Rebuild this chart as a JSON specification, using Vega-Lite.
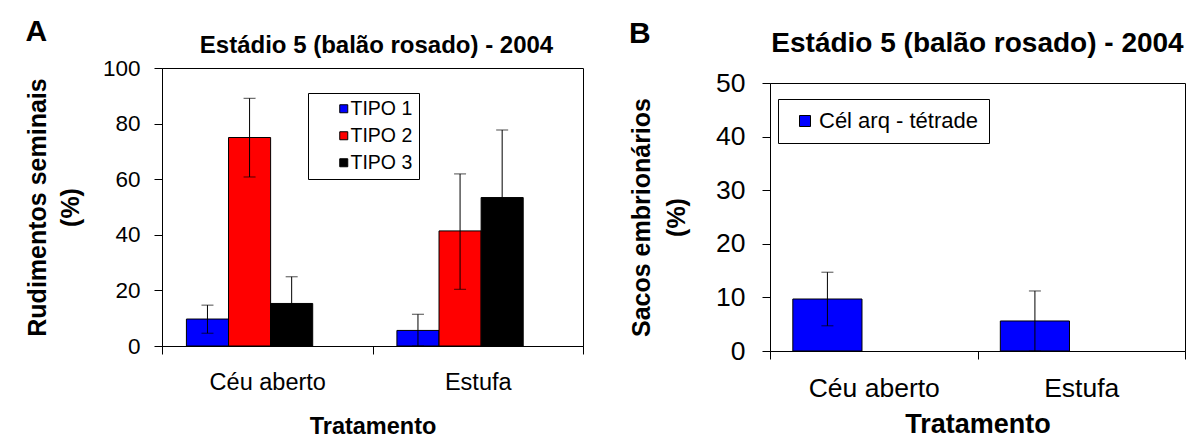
{
  "$schema": "https://vega.github.io/schema/vega-lite/v6.json",
  "background": "white",
  "padding": {"left": 25, "top": 16, "right": 0, "bottom": 0},
  "config": {
    "font": "Liberation Sans",
    "view": {"stroke": "black", "strokeWidth": 1},
    "axis": {
      "domainColor": "black", "domainWidth": 1,
      "tickColor": "black", "tickWidth": 1, "tickSize": 8,
      "labelColor": "black", "titleColor": "black",
      "labelFont": "Liberation Sans", "titleFont": "Liberation Sans",
      "titleFontWeight": "bold", "grid": false
    },
    "title": {"font": "Liberation Sans", "fontWeight": "bold", "color": "black"}
  },
  "datasets": {
    "rudimentos": [
      {"tratamento": "Céu aberto", "tipo": "TIPO 1", "media": 9.7, "inf": 4.6, "sup": 14.7},
      {"tratamento": "Céu aberto", "tipo": "TIPO 2", "media": 75.0, "inf": 60.8, "sup": 89.1},
      {"tratamento": "Céu aberto", "tipo": "TIPO 3", "media": 15.3, "inf": 5.7, "sup": 24.9},
      {"tratamento": "Estufa", "tipo": "TIPO 1", "media": 5.6, "inf": 0, "sup": 11.4},
      {"tratamento": "Estufa", "tipo": "TIPO 2", "media": 41.4, "inf": 20.4, "sup": 61.9},
      {"tratamento": "Estufa", "tipo": "TIPO 3", "media": 53.4, "inf": 29.1, "sup": 77.7}
    ],
    "sacos": [
      {"tratamento": "Céu aberto", "serie": "Cél arq - tétrade", "media": 9.7, "inf": 4.7, "sup": 14.7},
      {"tratamento": "Estufa", "serie": "Cél arq - tétrade", "media": 5.6, "inf": 0, "sup": 11.2}
    ],
    "titulo": [
      {"titulo": "Estádio 5 (balão rosado) - 2004"}
    ]
  },
  "resolve": {
    "scale": {"x": "independent", "y": "independent", "xOffset": "independent", "color": "independent"},
    "legend": {"color": "independent"}
  },
  "spacing": 45,
  "hconcat": [
    {
      "title": {"text": "A", "anchor": "start", "frame": "bounds", "fontSize": 30, "offset": -12.5},
      "bounds": "flush",
      "spacing": 10,
      "vconcat": [
        {
          "width": 421,
          "height": 24,
          "view": {"stroke": null},
          "data": {"name": "titulo"},
          "mark": {"type": "text", "fontSize": 24, "fontWeight": "bold", "color": "black", "align": "center", "baseline": "middle", "dx": 4},
          "encoding": {"text": {"field": "titulo", "type": "nominal"}}
        },
        {
          "width": 421,
          "height": 278,
          "data": {"name": "rudimentos"},
          "encoding": {
            "x": {
              "field": "tratamento", "type": "nominal",
              "scale": {"domain": ["Céu aberto", "Estufa"], "paddingInner": 0, "paddingOuter": 0},
              "axis": {"title": "Tratamento", "labelAngle": 0, "tickBand": "extent", "labelFontSize": 23.5, "labelPadding": 16, "titleFontSize": 23.5, "titlePadding": 21}
            },
            "xOffset": {
              "field": "tipo", "type": "nominal",
              "scale": {"domain": ["TIPO 1", "TIPO 2", "TIPO 3"], "paddingInner": 0, "paddingOuter": 1.192, "align": 0.29}
            }
          },
          "layer": [
            {
              "mark": {"type": "bar", "stroke": "black", "strokeWidth": 1},
              "encoding": {
                "y": {
                  "field": "media", "type": "quantitative",
                  "scale": {"domain": [0, 100], "nice": false},
                  "axis": {"title": ["Rudimentos seminais", "(%)"], "values": [0, 20, 40, 60, 80, 100], "labelFontSize": 22.5, "labelPadding": 14, "titleFontSize": 25, "titleLineHeight": 33, "titlePadding": 18.5}
                },
                "color": {
                  "field": "tipo", "type": "nominal",
                  "scale": {"domain": ["TIPO 1", "TIPO 2", "TIPO 3"], "range": ["#0000ff", "#ff0000", "#000000"]},
                  "legend": {
                    "orient": "none", "legendX": 146, "legendY": 59, "title": null,
                    "strokeColor": "black", "fillColor": "white", "padding": 6,
                    "symbolType": "square", "symbolSize": 64, "symbolStrokeColor": "black", "symbolStrokeWidth": 1,
                    "symbolOffset": 20, "labelOffset": -3, "rowPadding": 6,
                    "labelFontSize": 19.5, "labelFont": "Liberation Sans", "labelColor": "black"
                  }
                }
              }
            },
            {
              "mark": {"type": "rule", "color": "black", "strokeWidth": 1},
              "encoding": {
                "y": {"field": "inf", "type": "quantitative"},
                "y2": {"field": "sup"}
              }
            },
            {
              "mark": {"type": "tick", "color": "black", "size": 12, "thickness": 1},
              "encoding": {"y": {"field": "inf", "type": "quantitative"}}
            },
            {
              "mark": {"type": "tick", "color": "black", "size": 12, "thickness": 1},
              "encoding": {"y": {"field": "sup", "type": "quantitative"}}
            }
          ]
        }
      ]
    },
    {
      "title": {"text": "B", "anchor": "start", "frame": "bounds", "fontSize": 30, "offset": -18.5},
      "bounds": "flush",
      "spacing": 25,
      "vconcat": [
        {
          "width": 415,
          "height": 24,
          "view": {"stroke": null},
          "data": {"name": "titulo"},
          "mark": {"type": "text", "fontSize": 28, "fontWeight": "bold", "color": "black", "align": "center", "baseline": "middle", "dy": -2},
          "encoding": {"text": {"field": "titulo", "type": "nominal"}}
        },
        {
          "width": 415,
          "height": 268,
          "data": {"name": "sacos"},
          "encoding": {
            "x": {
              "field": "tratamento", "type": "nominal",
              "scale": {"domain": ["Céu aberto", "Estufa"], "paddingInner": 0, "paddingOuter": 0},
              "axis": {"title": "Tratamento", "labelAngle": 0, "tickBand": "extent", "labelFontSize": 26.5, "labelPadding": 16, "titleFontSize": 27, "titlePadding": 10}
            },
            "xOffset": {
              "field": "serie", "type": "nominal",
              "scale": {"domain": ["Cél arq - tétrade"], "paddingInner": 0, "paddingOuter": 2.195, "align": 0.165}
            }
          },
          "layer": [
            {
              "mark": {"type": "bar", "stroke": "black", "strokeWidth": 1},
              "encoding": {
                "y": {
                  "field": "media", "type": "quantitative",
                  "scale": {"domain": [0, 50], "nice": false},
                  "axis": {"title": ["Sacos embrionários", "(%)"], "values": [0, 10, 20, 30, 40, 50], "labelFontSize": 26.5, "labelPadding": 17, "titleFontSize": 25, "titleLineHeight": 35, "titlePadding": 26}
                },
                "color": {
                  "field": "serie", "type": "nominal",
                  "scale": {"domain": ["Cél arq - tétrade"], "range": ["#0000ff"]},
                  "legend": {
                    "orient": "none", "legendX": 8, "legendY": 65, "title": null,
                    "strokeColor": "black", "fillColor": "white", "padding": 11,
                    "symbolType": "square", "symbolSize": 121, "symbolStrokeColor": "black", "symbolStrokeWidth": 1,
                    "symbolOffset": 5, "labelOffset": 3,
                    "labelFontSize": 22, "labelFont": "Liberation Sans", "labelColor": "black"
                  }
                }
              }
            },
            {
              "mark": {"type": "rule", "color": "black", "strokeWidth": 1},
              "encoding": {
                "y": {"field": "inf", "type": "quantitative"},
                "y2": {"field": "sup"}
              }
            },
            {
              "mark": {"type": "tick", "color": "black", "size": 12, "thickness": 1},
              "encoding": {"y": {"field": "inf", "type": "quantitative"}}
            },
            {
              "mark": {"type": "tick", "color": "black", "size": 12, "thickness": 1},
              "encoding": {"y": {"field": "sup", "type": "quantitative"}}
            }
          ]
        }
      ]
    }
  ]
}
